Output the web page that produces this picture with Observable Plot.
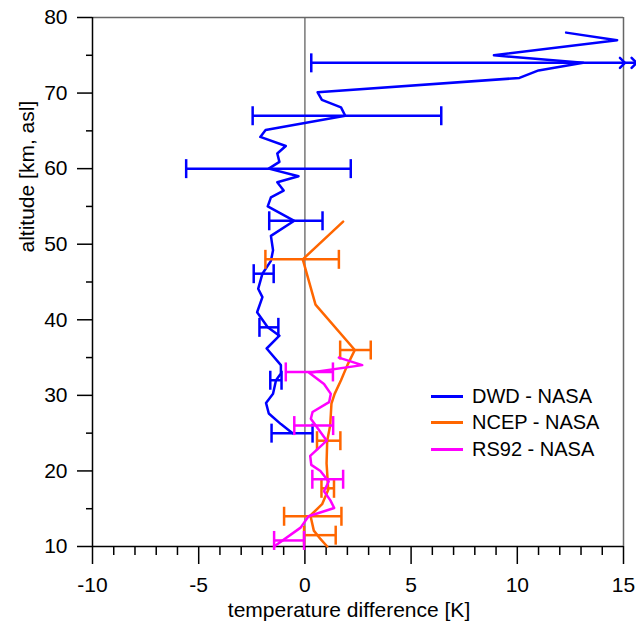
<!DOCTYPE html>
<html><head><meta charset="utf-8">
<script src="https://cdn.jsdelivr.net/npm/d3@7"></script>
<script src="https://cdn.jsdelivr.net/npm/@observablehq/plot@0.6"></script>
<style>
body{margin:0;background:#fff;}
#wrap{position:relative;width:636px;height:623px;}
#legend{position:absolute;left:431px;top:383px;font:20px "Liberation Sans",Arial,sans-serif;color:#000;}
.row{display:flex;align-items:center;height:26.5px;}
.sw{width:32px;height:3px;margin-right:9px;}
</style></head><body><div id="wrap"></div>
<script>
// ---- labels & ticks ----
const xLabel = "temperature difference [K]";
const yLabel = "altitude [km, asl]";
const xDomain = [-10, 15];
const yDomain = [10, 80];
const xMajorTicks = [-10, -5, 0, 5, 10, 15];
const xMinorTicks = [-9, -8, -7, -6, -4, -3, -2, -1, 1, 2, 3, 4, 6, 7, 8, 9, 11, 12, 13, 14];
const yMajorTicks = [10, 20, 30, 40, 50, 60, 70, 80];
const yMinorTicks = [15, 25, 35, 45, 55, 65, 75];
const seriesNames = ["DWD - NASA", "NCEP - NASA", "RS92 - NASA"];
const seriesColors = ["#0000ff", "#ff6600", "#ff00ff"];

// ---- DWD - NASA ----
const dwdAlt = [78, 77, 75, 74, 73, 72, 70.1, 69.1, 68.1, 67, 65.1, 64.2, 63, 62, 60.9, 60, 59, 58.2, 57.1, 56.2, 55, 53.1, 51.1, 49.2, 47.8, 46.1, 44.1, 43, 41, 39, 37.9, 36.2, 34, 32.9, 32, 30.2, 29, 27.6, 26.2, 25];
const dwdDiff = [12.3, 14.7, 8.9, 13.1, 11.0, 10.1, 0.6, 0.8, 1.7, 1.9, -1.85, -2.1, -0.9, -1.3, -1.2, -1.7, -0.3, -1.3, -1.0, -1.6, -1.75, -0.5, -1.6, -1.5, -1.6, -2.0, -2.2, -2.0, -2.25, -1.75, -1.2, -1.8, -1.13, -1.13, -1.36, -1.5, -1.83, -1.7, -1.13, -0.58];
const dwdErrAlt = [67, 60, 53.1, 46.1, 39, 32, 25];
const dwdErrLo = [-2.46, -5.59, -1.68, -2.41, -2.14, -1.63, -1.57];
const dwdErrHi = [6.42, 2.16, 0.83, -1.47, -1.25, -1.1, 0.36];
// error bar at 74 km whose upper end is off scale (drawn with arrow heads)
const dwdOpenAlt = 74;
const dwdOpenX = [0.3, 14.95, 15.5];

// ---- NCEP - NASA ----
const ncepAlt = [53, 48, 42, 36, 34, 32, 30.2, 28.9, 26, 24, 21, 17.5, 15.6, 14.1, 12.1, 11, 10];
const ncepDiff = [1.8, -0.1, 0.5, 2.35, 2.0, 1.7, 1.4, 1.25, 1.19, 1.05, 1.02, 1.1, 0.81, 0.26, 0.42, 0.73, 1.05];
const ncepErrAlt = [48, 36, 24, 17.7, 14, 11.5];
const ncepErrLo = [-1.86, 1.66, 0.57, 0.78, -0.98, -0.04];
const ncepErrHi = [1.6, 3.1, 1.67, 1.37, 1.72, 1.45];

// ---- RS92 - NASA ----
const rsAlt = [35, 34, 33, 31.5, 30.2, 29.1, 27.8, 26.9, 24.0, 22.0, 20.8, 20.0, 18.6, 17.3, 16.1, 15.1, 14.0, 12.5, 10.0];
const rsDiff = [1.6, 2.7, 0.2, 0.9, 1.22, 1.14, 0.36, 0.28, 1.03, 0.25, 0.3, 0.73, 1.12, 0.9, 1.2, 1.38, 0.17, -0.2, -1.45];
const rsErrAlt = [33.1, 26.0, 18.9, 10.8];
const rsErrLo = [-0.9, -0.5, 0.35, -1.45];
const rsErrHi = [1.32, 1.33, 1.8, -0.04];

// ---- build tables ----
const toLine = (alt, diff) => alt.map((a, i) => ({alt: a, diff: diff[i]}));
const toErr = (alt, lo, hi) => alt.map((a, i) => ({alt: a, lo: lo[i], hi: hi[i]}));
const series = [
  {line: toLine(dwdAlt, dwdDiff), err: toErr(dwdErrAlt, dwdErrLo, dwdErrHi), color: seriesColors[0]},
  {line: toLine(ncepAlt, ncepDiff), err: toErr(ncepErrAlt, ncepErrLo, ncepErrHi), color: seriesColors[1]},
  {line: toLine(rsAlt, rsDiff), err: toErr(rsErrAlt, rsErrLo, rsErrHi), color: seriesColors[2]}
];
const openBar = dwdOpenX.map(x => ({alt: dwdOpenAlt, diff: x}));

const cap = {draw(ctx) { ctx.moveTo(0, -9.5); ctx.lineTo(0, 9.5); }};
const LW = 2.5;

const marks = [
  Plot.ruleX([0], {stroke: "#777", strokeWidth: 1.5}),
  Plot.ruleY([yDomain[1]], {stroke: "#666", strokeWidth: 1.5}),
  Plot.ruleX([xDomain[1]], {stroke: "#666", strokeWidth: 1.5}),
  Plot.axisX({ticks: xMinorTicks, tickSize: 9, tickFormat: () => "", label: null, strokeWidth: 1.5}),
  Plot.axisX({ticks: xMajorTicks, tickSize: 18, tickPadding: 13, label: null, strokeWidth: 1.5, tickFormat: d => d < 0 ? "-" + Math.abs(d) : String(d)}),
  Plot.axisY({ticks: yMinorTicks, tickSize: 6, tickFormat: () => "", label: null, strokeWidth: 1.5}),
  Plot.axisY({ticks: yMajorTicks, tickSize: 15, tickPadding: 10, label: null, strokeWidth: 1.5}),
  Plot.ruleX([xDomain[0]], {stroke: "#000", strokeWidth: 1.5}),
  Plot.ruleY([yDomain[0]], {stroke: "#000", strokeWidth: 1.5}),
];
series.forEach((s, k) => {
  marks.push(Plot.line(s.line, {x: "diff", y: "alt", stroke: s.color, strokeWidth: LW, curve: "linear"}));
  marks.push(Plot.link(s.err, {x1: "lo", x2: "hi", y1: "alt", y2: "alt", stroke: s.color, strokeWidth: LW}));
  marks.push(Plot.dot(s.err, {x: "lo", y: "alt", symbol: cap, fill: "none", stroke: s.color, strokeWidth: LW}));
  marks.push(Plot.dot(s.err, {x: "hi", y: "alt", symbol: cap, fill: "none", stroke: s.color, strokeWidth: LW}));
  if (k === 0) {
    marks.push(Plot.line(openBar, {x: "diff", y: "alt", stroke: s.color, strokeWidth: LW, markerMid: "arrow", markerEnd: "arrow"}));
    marks.push(Plot.dot(openBar.slice(0, 1), {x: "diff", y: "alt", symbol: cap, fill: "none", stroke: s.color, strokeWidth: LW}));
  }
});
marks.push(Plot.text([xLabel], {text: d => d, frameAnchor: "bottom", dx: -9, dy: 64, lineAnchor: "middle", fontSize: 21}));
marks.push(Plot.text([yLabel], {text: d => d, frameAnchor: "left", rotate: -90, dx: -65, dy: -29.5, lineAnchor: "middle", fontSize: 21}));

const chart = Plot.plot({
  width: 636, height: 623,
  marginLeft: 92, marginRight: 13, marginTop: 17, marginBottom: 77,
  x: {domain: xDomain},
  y: {domain: yDomain},
  style: {fontFamily: "'Liberation Sans', Arial, sans-serif", fontSize: "21px", color: "#000", background: "#fff", overflow: "visible"},
  marks
});
const wrap = document.getElementById("wrap");
wrap.appendChild(chart);

const legend = document.createElement("div");
legend.id = "legend";
seriesNames.forEach((n, i) => {
  const row = document.createElement("div");
  row.className = "row";
  const sw = document.createElement("div");
  sw.className = "sw";
  sw.style.background = seriesColors[i];
  const t = document.createElement("span");
  t.textContent = n;
  row.appendChild(sw); row.appendChild(t);
  legend.appendChild(row);
});
wrap.appendChild(legend);
</script></body></html>
